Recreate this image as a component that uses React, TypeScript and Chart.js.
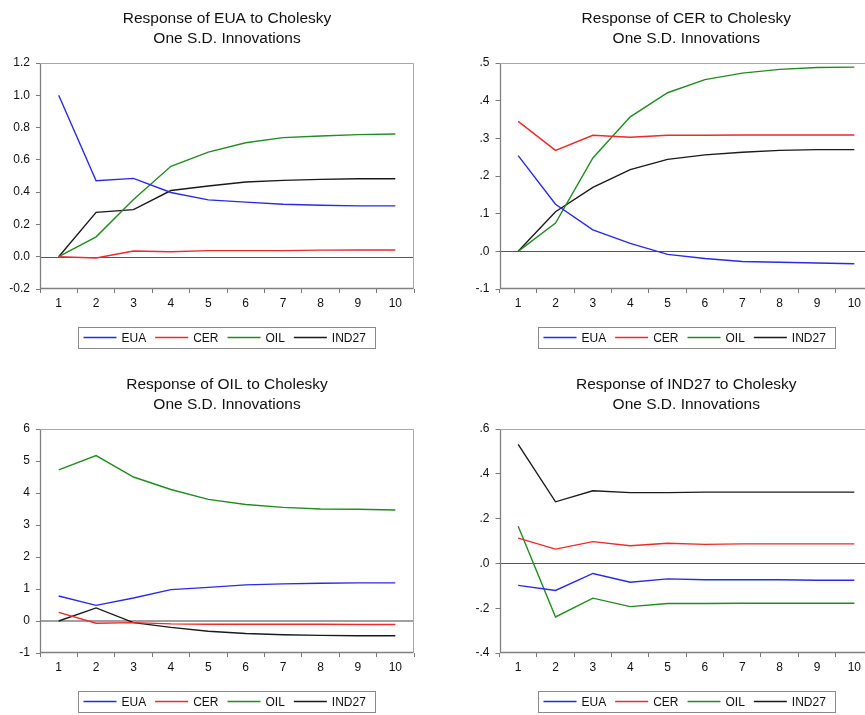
import React, { useEffect, useRef } from "react";
import { Chart, registerables } from "chart.js";
Chart.register(...registerables);

const periods = ["1", "2", "3", "4", "5", "6", "7", "8", "9", "10"];
const seriesNames = ["EUA", "CER", "OIL", "IND27"];
const seriesColors = ["#2a2ae6", "#ec2b2b", "#228b22", "#1a1a1a"];

// Response of EUA
const euaEUA = [1.0, 0.471, 0.485, 0.398, 0.352, 0.338, 0.325, 0.319, 0.315, 0.315];
const euaCER = [0, -0.008, 0.035, 0.031, 0.038, 0.038, 0.038, 0.041, 0.042, 0.042];
const euaOIL = [0, 0.123, 0.354, 0.56, 0.648, 0.706, 0.738, 0.748, 0.756, 0.76];
const euaIND27 = [0, 0.275, 0.292, 0.41, 0.438, 0.463, 0.473, 0.479, 0.483, 0.483];

// Response of CER
const cerEUA = [0.254, 0.125, 0.057, 0.021, -0.008, -0.019, -0.027, -0.029, -0.031, -0.033];
const cerCER = [0.345, 0.268, 0.308, 0.303, 0.308, 0.308, 0.309, 0.309, 0.309, 0.309];
const cerOIL = [0, 0.075, 0.248, 0.357, 0.421, 0.456, 0.473, 0.483, 0.488, 0.489];
const cerIND27 = [0, 0.105, 0.17, 0.217, 0.244, 0.256, 0.263, 0.268, 0.27, 0.27];

// Response of OIL
const oilEUA = [0.78, 0.49, 0.72, 0.98, 1.05, 1.13, 1.16, 1.18, 1.19, 1.19];
const oilCER = [0.27, -0.07, -0.05, -0.09, -0.1, -0.1, -0.1, -0.1, -0.11, -0.11];
const oilOIL = [4.72, 5.17, 4.5, 4.11, 3.8, 3.64, 3.55, 3.5, 3.49, 3.47];
const oilIND27 = [0, 0.41, -0.05, -0.2, -0.32, -0.39, -0.43, -0.45, -0.46, -0.46];

// Response of IND27
const indEUA = [-0.098, -0.121, -0.045, -0.084, -0.069, -0.073, -0.073, -0.073, -0.075, -0.075];
const indCER = [0.113, 0.064, 0.097, 0.079, 0.09, 0.085, 0.087, 0.087, 0.087, 0.087];
const indOIL = [0.166, -0.239, -0.155, -0.193, -0.179, -0.179, -0.178, -0.178, -0.178, -0.178];
const indIND27 = [0.531, 0.275, 0.324, 0.316, 0.316, 0.318, 0.318, 0.318, 0.318, 0.318];

const FONT = '"Liberation Sans", Arial, Helvetica, sans-serif';

const fmtDec = (v: number) => (Math.abs(v) < 1e-9 ? 0 : v).toFixed(1);
const fmtDot = (v: number) => fmtDec(v).replace("0.", ".");
const fmtInt = (v: number) => String(Math.round(v));

const decorPlugin = {
  id: "decor",
  beforeDatasetsDraw(chart: any, _args: any, opts: any) {
    const { ctx, chartArea: a, scales } = chart;
    const y0 = Math.round(scales.y.getPixelForValue(0));
    ctx.save();
    ctx.strokeStyle = opts.zeroColor;
    ctx.lineWidth = opts.zeroWidth;
    ctx.beginPath();
    const off = opts.zeroWidth % 2 === 1 ? 0.5 : 0;
    ctx.moveTo(a.left, y0 + off);
    ctx.lineTo(a.right, y0 + off);
    ctx.stroke();
    ctx.restore();
  },
  afterDraw(chart: any, _args: any, opts: any) {
    const { ctx, chartArea: a } = chart;
    ctx.save();
    // frame
    const L = Math.round(a.left) + 0.5;
    const R = Math.round(a.right) - 0.5;
    const T = Math.round(a.top) + 0.5;
    const B = Math.round(a.bottom) - 0.5;
    ctx.lineWidth = 1;
    ctx.strokeStyle = "#a8a8a8";
    ctx.beginPath();
    ctx.moveTo(L, T);
    ctx.lineTo(R, T);
    ctx.lineTo(R, B);
    ctx.stroke();
    ctx.strokeStyle = "#808080";
    ctx.lineWidth = 1.3;
    ctx.beginPath();
    ctx.moveTo(L, T);
    ctx.lineTo(L, B);
    ctx.lineTo(R, B);
    ctx.stroke();

    const cx = (a.left + a.right) / 2;
    // title
    ctx.fillStyle = "#111";
    ctx.font = `15.5px ${FONT}`;
    ctx.textAlign = "center";
    ctx.textBaseline = "alphabetic";
    ctx.fillText(opts.title, cx, 23.3);
    ctx.fillText("One S.D. Innovations", cx, 43);

    // legend
    ctx.font = `12px ${FONT}`;
    const lineLen = 33;
    const gapLT = 5;
    const gapItem = 9;
    const padL = 5;
    const padR = 10;
    const widths = seriesNames.map((n) => ctx.measureText(n).width);
    const total =
      padL + padR + widths.reduce((s, w) => s + w + lineLen + gapLT, 0) + gapItem * (seriesNames.length - 1);
    const bx = Math.round(cx - total / 2) + 0.5;
    const by = opts.legendTop + 0.5;
    const bh = 21;
    ctx.strokeStyle = "#8a8a8a";
    ctx.lineWidth = 1;
    ctx.strokeRect(bx, by, Math.round(total), bh);
    let x = bx + padL;
    const ly = opts.legendTop + 10.5;
    ctx.textAlign = "left";
    seriesNames.forEach((n, i) => {
      ctx.strokeStyle = seriesColors[i];
      ctx.lineWidth = 1.4;
      ctx.beginPath();
      ctx.moveTo(x, ly);
      ctx.lineTo(x + lineLen, ly);
      ctx.stroke();
      x += lineLen + gapLT;
      ctx.fillStyle = "#111";
      ctx.fillText(n, x, opts.legendTop + 15);
      x += widths[i] + gapItem;
    });
    ctx.restore();
  },
};

type PanelProps = {
  left: number;
  top: number;
  width: number;
  height: number;
  plotLeft: number;
  plotRight: number;
  plotTop: number;
  plotBottom: number;
  title: string;
  yMin: number;
  yMax: number;
  yStep: number;
  fmt: (v: number) => string;
  series: number[][];
  zeroColor: string;
  zeroWidth: number;
};

function Panel(p: PanelProps) {
  const ref = useRef<HTMLCanvasElement | null>(null);
  useEffect(() => {
    if (!ref.current) return;
    const xAxisH = 20;
    const chart = new Chart(ref.current, {
      type: "line",
      data: {
        labels: periods,
        datasets: p.series.map((d, i) => ({
          label: seriesNames[i],
          data: d,
          borderColor: seriesColors[i],
          backgroundColor: seriesColors[i],
          borderWidth: 1.4,
          pointRadius: 0,
          tension: 0,
          fill: false,
        })),
      },
      options: {
        responsive: false,
        animation: false,
        events: [],
        layout: {
          padding: {
            left: 0,
            top: p.plotTop,
            right: p.width - p.plotRight,
            bottom: p.height - p.plotBottom - xAxisH,
          },
        },
        plugins: {
          legend: { display: false },
          title: { display: false },
          tooltip: { enabled: false },
          decor: {
            title: p.title,
            legendTop: p.plotBottom + 38,
            zeroColor: p.zeroColor,
            zeroWidth: p.zeroWidth,
          },
        } as any,
        scales: {
          x: {
            type: "category",
            offset: true,
            grid: {
              offset: true,
              drawOnChartArea: false,
              drawTicks: true,
              tickLength: 4,
              color: "#7a7a7a",
            },
            border: { display: false },
            ticks: {
              font: { family: FONT, size: 12 },
              color: "#111",
              padding: 3,
              maxRotation: 0,
              autoSkip: false,
            },
            afterFit: (s: any) => {
              s.height = xAxisH;
            },
          },
          y: {
            min: p.yMin,
            max: p.yMax,
            grid: {
              drawOnChartArea: false,
              drawTicks: true,
              tickLength: 4,
              color: "#7a7a7a",
            },
            border: { display: false },
            ticks: {
              stepSize: p.yStep,
              font: { family: FONT, size: 12 },
              color: "#111",
              padding: 6,
              callback: (v: any) => p.fmt(Number(v)),
            },
            afterFit: (s: any) => {
              s.width = p.plotLeft;
            },
          },
        },
      },
      plugins: [decorPlugin as any],
    });
    return () => chart.destroy();
  }, []);
  return (
    <canvas
      ref={ref}
      width={p.width}
      height={p.height}
      style={{ position: "absolute", left: p.left, top: p.top, width: p.width, height: p.height }}
    />
  );
}

export default function App() {
  return (
    <div
      style={{
        position: "fixed",
        left: 0,
        top: 0,
        width: 865,
        height: 715,
        overflow: "hidden",
        background: "#fff",
      }}
    >
      <Panel
        left={0}
        top={0}
        width={432}
        height={357}
        plotLeft={40}
        plotRight={414}
        plotTop={63}
        plotBottom={289}
        title="Response of EUA to Cholesky"
        yMin={-0.2}
        yMax={1.2}
        yStep={0.2}
        fmt={fmtDec}
        series={[euaEUA, euaCER, euaOIL, euaIND27]}
        zeroColor="#555"
        zeroWidth={1}
      />
      <Panel
        left={432}
        top={0}
        width={460}
        height={357}
        plotLeft={67.5}
        plotRight={441}
        plotTop={63}
        plotBottom={289}
        title="Response of CER to Cholesky"
        yMin={-0.1}
        yMax={0.5}
        yStep={0.1}
        fmt={fmtDot}
        series={[cerEUA, cerCER, cerOIL, cerIND27]}
        zeroColor="#555"
        zeroWidth={1}
      />
      <Panel
        left={0}
        top={366}
        width={432}
        height={349}
        plotLeft={40}
        plotRight={414}
        plotTop={63}
        plotBottom={287}
        title="Response of OIL to Cholesky"
        yMin={-1}
        yMax={6}
        yStep={1}
        fmt={fmtInt}
        series={[oilEUA, oilCER, oilOIL, oilIND27]}
        zeroColor="#a0a0a0"
        zeroWidth={2}
      />
      <Panel
        left={432}
        top={366}
        width={460}
        height={349}
        plotLeft={67.5}
        plotRight={441}
        plotTop={63}
        plotBottom={287}
        title="Response of IND27 to Cholesky"
        yMin={-0.4}
        yMax={0.6}
        yStep={0.2}
        fmt={fmtDot}
        series={[indEUA, indCER, indOIL, indIND27]}
        zeroColor="#555"
        zeroWidth={1}
      />
    </div>
  );
}
